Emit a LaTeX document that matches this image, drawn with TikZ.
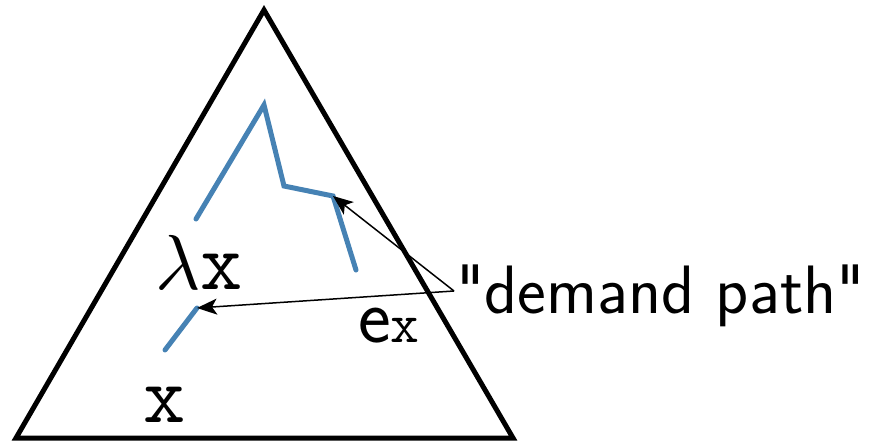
\documentclass[tikz,border=0pt]{standalone}
\usepackage{graphicx}
\usepackage{fontspec}
\newfontfamily\lmsansbig{lmsans17-regular.otf}
\usetikzlibrary{arrows.meta}
\definecolor{pathblue}{RGB}{70,130,180}
\begin{document}
\begin{tikzpicture}[x=1pt,y=-1pt,
  tri/.style={line width=5pt,line join=miter},
  demand/.style={line width=5pt,color=pathblue,line cap=round,line join=miter},
  pointer/.style={line width=1.5pt,-{Stealth[length=20pt,width=16pt,inset=5pt]}},
  lbl/.style={inner sep=0pt}]
\useasboundingbox (0,0) rectangle (873,444);
\coordinate (A) at (264,10);
\coordinate (B) at (16,438);
\coordinate (C) at (513,438);
\draw[tri] (A) -- (B) -- (C) -- cycle;
\coordinate (p1) at (196,219);
\coordinate (p2) at (264,105);
\coordinate (p3) at (284,186);
\coordinate (p4) at (333,196);
\coordinate (p5) at (356,270);
\draw[demand] (p1) -- (p2) -- (p3) -- (p4) -- (p5);
\coordinate (q1) at (165,350);
\coordinate (q2) at (197,308);
\draw[demand] (q1) -- (q2);
\node[lbl,anchor=base,font=\fontsize{82}{84}\selectfont] (lx) at (199,289) {\scalebox{7.8}{\fontsize{10}{12}\selectfont$\lambda$}\texttt{x}};
\node[lbl,anchor=base,font=\fontsize{82}{84}\selectfont] (x) at (165,422) {\texttt{x}};
\node[lbl,anchor=base west,font=\fontsize{78}{80}\selectfont] (ex) at (358,342) {\textsf{e}{\fontsize{56}{58}\selectfont\texttt{x}}};
\node[lbl,anchor=base west,font=\fontsize{68.5}{72}\selectfont\lmsansbig] (dp) at (456,313) {"demand path"};
\coordinate (t) at (454,291);
\draw[pointer] (t) -- (p4);
\draw[pointer] (t) -- (q2);
\end{tikzpicture}
\end{document}
